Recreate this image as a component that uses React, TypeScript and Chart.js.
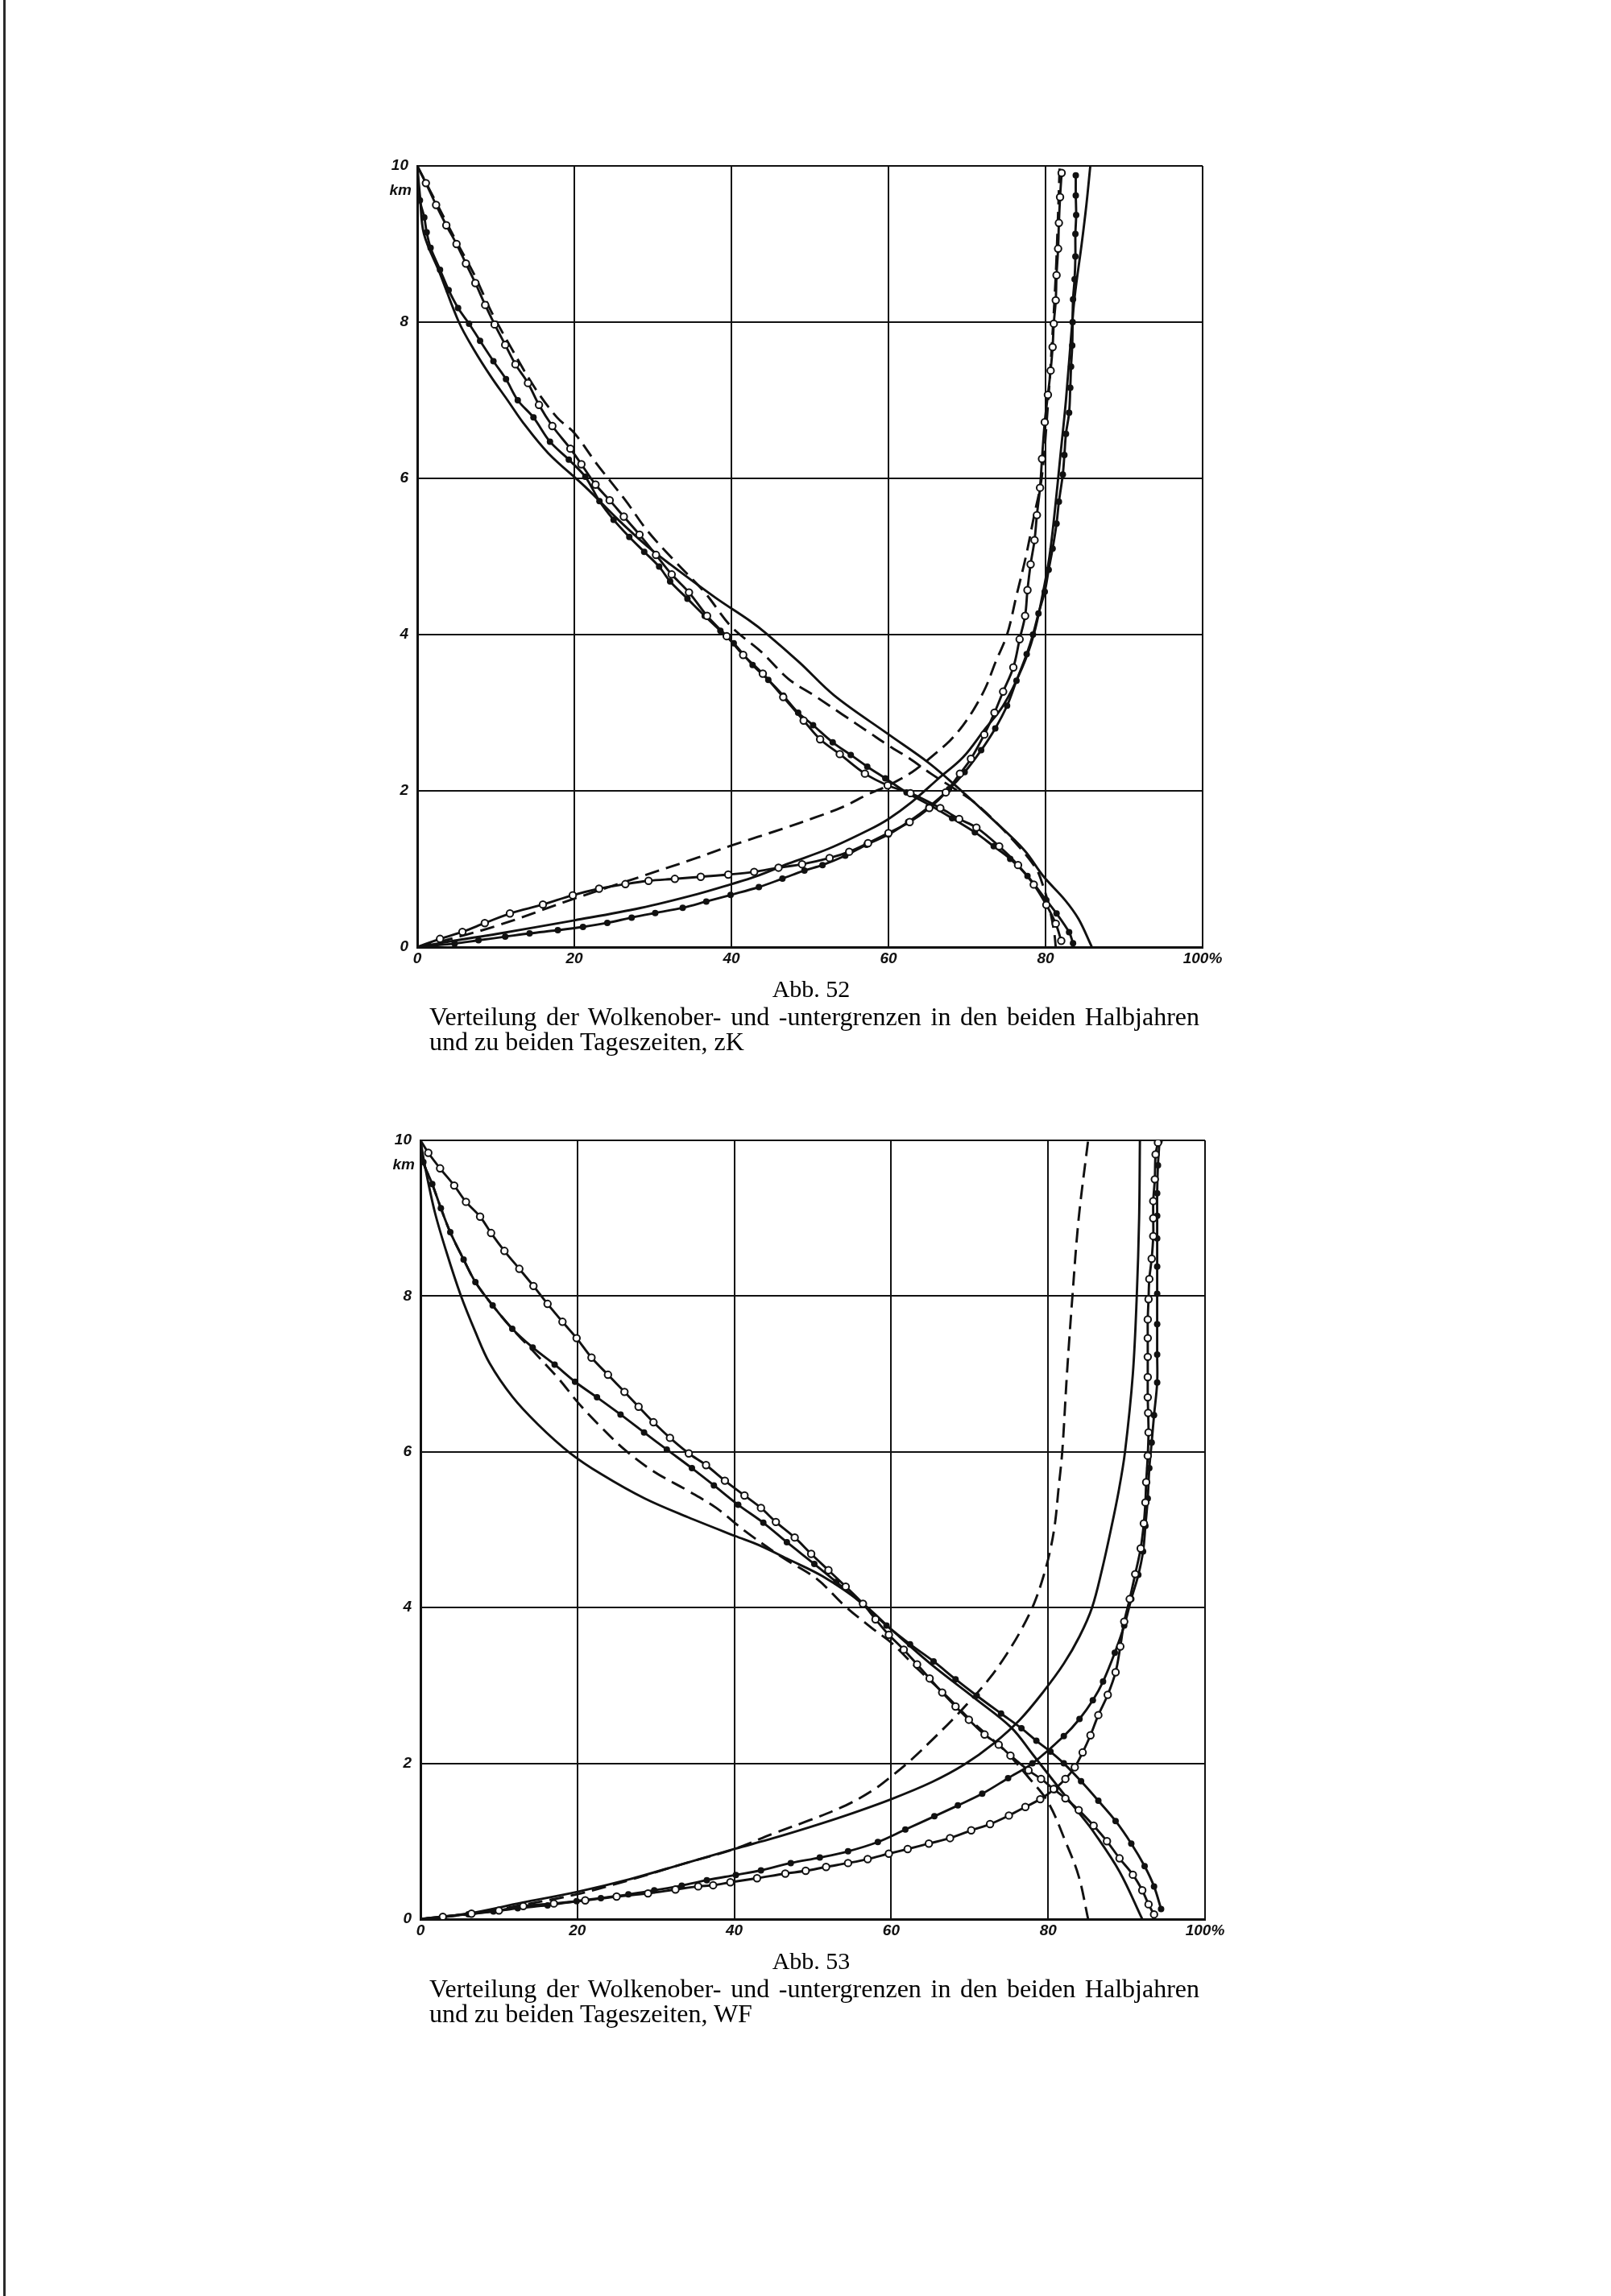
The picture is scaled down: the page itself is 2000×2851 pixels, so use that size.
import React, { useEffect, useRef } from "react";
import { Chart, registerables } from "chart.js";

Chart.register(...registerables);

type Pt = [number, number]; // [percent, km]

const xTickLabels = ["0", "20", "40", "60", "80", "100%"];
const xTickValues = [0, 20, 40, 60, 80, 100];
const yUnit = "km";

// ---------- Abb. 52 (zK) ----------
// falling curves (0 % at 10 km -> ~85 % at 0 km)
const a52FallVoll: Pt[] = [
  [0, 10], [0.36, 9.6], [0.85, 9.13], [2.9, 8.62], [5.3, 8.0], [7.2, 7.65], [9.4, 7.3],
  [11.5, 7.0], [13.5, 6.71], [16.7, 6.32], [21.4, 5.89], [25.7, 5.46], [29.3, 5.13],
  [32.2, 4.9], [38.0, 4.47], [42.3, 4.18], [44.5, 4.01], [48.7, 3.64], [53.1, 3.22],
  [59.9, 2.73], [65.1, 2.36], [68.5, 2.07], [73.2, 1.64], [77.3, 1.24], [79.7, 0.91],
  [82.5, 0.6], [84.2, 0.36], [85.9, 0],
];
const a52FallStrich: Pt[] = [
  [0, 10], [3.25, 9.37], [5.0, 9.03], [7.35, 8.59], [9.4, 8.14], [11.8, 7.7], [14.9, 7.17],
  [17.8, 6.78], [20.0, 6.58], [22.9, 6.18], [26.5, 5.72], [29.3, 5.33], [32.9, 4.93],
  [36.6, 4.54], [40.0, 4.1], [43.8, 3.78], [47.3, 3.43], [50.7, 3.21], [54.1, 2.98],
  [57.5, 2.75], [60.0, 2.58], [62.6, 2.42], [65.4, 2.22], [68.5, 2.02], [71.2, 1.83],
  [75.3, 1.43], [78.7, 1.02], [79.7, 0.78], [80.5, 0.5], [81.1, 0.19], [81.3, 0],
];
const a52FallOffen: Pt[] = [
  [0, 10], [1.1, 9.78], [2.4, 9.5], [3.7, 9.24], [5.0, 9.0], [6.2, 8.75], [7.4, 8.5],
  [8.65, 8.22], [9.85, 7.97], [11.2, 7.71], [12.5, 7.46], [14.1, 7.22], [15.5, 6.94],
  [17.2, 6.67], [19.5, 6.38], [20.9, 6.18], [22.7, 5.92], [24.5, 5.72], [26.3, 5.51],
  [28.3, 5.28], [30.4, 5.02], [32.4, 4.77], [34.6, 4.54], [36.9, 4.24], [39.4, 3.98],
  [41.5, 3.74], [44.0, 3.5], [46.6, 3.2], [49.2, 2.9], [51.3, 2.66], [53.8, 2.47],
  [57.0, 2.22], [59.9, 2.07], [62.8, 1.97], [66.6, 1.78], [69.0, 1.64], [71.2, 1.53],
  [74.1, 1.29], [76.5, 1.05], [78.5, 0.8], [80.1, 0.54], [81.3, 0.3], [82.0, 0.08],
];
const a52FallPunkt: Pt[] = [
  [0, 10], [0.34, 9.56], [0.9, 9.34], [1.2, 9.15], [1.7, 8.95], [2.9, 8.67], [4.0, 8.41],
  [5.2, 8.18], [6.6, 7.98], [8.0, 7.76], [9.7, 7.5], [11.3, 7.27], [12.8, 7.0], [14.8, 6.78],
  [16.9, 6.47], [19.3, 6.24], [21.4, 6.02], [23.2, 5.71], [25.0, 5.47], [27.0, 5.25],
  [28.9, 5.06], [30.8, 4.87], [32.2, 4.68], [34.4, 4.46], [36.6, 4.24], [38.6, 4.05],
  [40.3, 3.89], [42.7, 3.61], [44.7, 3.42], [46.6, 3.22], [48.5, 3.0], [50.4, 2.84],
  [52.9, 2.62], [55.2, 2.46], [57.3, 2.31], [59.6, 2.16], [62.3, 1.98], [65.4, 1.81],
  [68.1, 1.65], [71.0, 1.47], [73.4, 1.29], [75.5, 1.13], [77.7, 0.91], [80.1, 0.6],
  [81.4, 0.43], [83.0, 0.19], [83.5, 0.05],
];
// rising curves (0 % at 0 km -> ~82-86 % at 10 km)
const a52StiegVoll: Pt[] = [
  [0, 0], [4.6, 0.08], [10.1, 0.168], [20, 0.342], [28.4, 0.5], [35.7, 0.68], [40, 0.806],
  [43, 0.9], [47.3, 1.07], [52.4, 1.26], [57.5, 1.5], [60, 1.64], [63, 1.86], [66.4, 2.16],
  [69.5, 2.43], [72.2, 2.78], [74.6, 3.09], [77.0, 3.57], [78.5, 4.0], [79.6, 4.5],
  [80.5, 5.0], [81.2, 5.6], [81.9, 6.3], [82.6, 7.0], [83.4, 8.0], [83.8, 8.4],
  [84.6, 9.0], [85.2, 9.5], [85.7, 10],
];
const a52StiegStrich: Pt[] = [
  [0, 0], [2.7, 0.063], [10.1, 0.272], [20, 0.62], [28.4, 0.9], [35.7, 1.145], [40, 1.3],
  [46.7, 1.52], [50.7, 1.66], [54.1, 1.79], [57.5, 1.96], [60, 2.07], [63, 2.24],
  [65.4, 2.43], [67.8, 2.64], [69.5, 2.84], [70.9, 3.05], [72.4, 3.33], [73.6, 3.64],
  [75.1, 4.0], [76.3, 4.5], [77.5, 5.0], [78.5, 5.5], [79.5, 6.0], [80.2, 6.8],
  [80.8, 7.7], [81.3, 8.6], [81.6, 9.4], [81.8, 10],
];
const a52StiegOffen: Pt[] = [
  [0, 0], [2.9, 0.105], [5.75, 0.195], [8.6, 0.307], [11.8, 0.43], [16.0, 0.545],
  [19.8, 0.663], [23.15, 0.747], [26.5, 0.806], [29.45, 0.848], [32.8, 0.873], [36.1, 0.9],
  [39.6, 0.928], [42.9, 0.963], [46.0, 1.016], [49.0, 1.06], [52.5, 1.14], [55.0, 1.22],
  [57.4, 1.33], [60, 1.46], [62.7, 1.6], [65.2, 1.78], [67.3, 1.98], [69.1, 2.22],
  [70.5, 2.41], [72.2, 2.72], [73.5, 3.0], [74.6, 3.27], [75.9, 3.58], [76.7, 3.94],
  [77.4, 4.24], [77.7, 4.57], [78.1, 4.9], [78.6, 5.21], [78.9, 5.53], [79.3, 5.88],
  [79.55, 6.25], [79.9, 6.72], [80.3, 7.07], [80.65, 7.38], [80.9, 7.68], [81.05, 7.98],
  [81.3, 8.28], [81.4, 8.6], [81.6, 8.94], [81.7, 9.27], [81.85, 9.6], [82.05, 9.91],
];
const a52StiegPunkt: Pt[] = [
  [0, 0], [4.76, 0.045], [7.8, 0.087], [11.2, 0.133], [14.3, 0.175], [17.9, 0.216],
  [21.1, 0.258], [24.2, 0.31], [27.3, 0.377], [30.3, 0.436], [33.8, 0.503], [36.8, 0.583],
  [39.9, 0.667], [43.5, 0.768], [46.5, 0.876], [49.3, 0.98], [51.6, 1.05], [54.5, 1.17],
  [57.2, 1.31], [60, 1.44], [62.5, 1.6], [65.1, 1.79], [67.7, 2.02], [69.7, 2.24],
  [71.8, 2.52], [73.6, 2.8], [75.1, 3.09], [76.3, 3.41], [77.6, 3.75], [78.4, 4.0],
  [79.1, 4.27], [79.9, 4.55], [80.4, 4.83], [80.9, 5.1], [81.4, 5.42], [81.7, 5.7],
  [82.2, 6.05], [82.4, 6.3], [82.6, 6.57], [83.0, 6.84], [83.15, 7.16], [83.25, 7.43],
  [83.4, 7.7], [83.45, 8.0], [83.5, 8.29], [83.7, 8.55], [83.8, 8.84], [83.8, 9.13],
  [83.9, 9.37], [83.85, 9.62], [83.85, 9.88],
];

// ---------- Abb. 53 (WF) ----------
const a53FallVoll: Pt[] = [
  [0, 10], [0.55, 9.68], [1.8, 9.09], [3.3, 8.57], [5.1, 8.02], [7.0, 7.54], [8.8, 7.14],
  [11.7, 6.71], [15.0, 6.35], [19.0, 5.99], [23.1, 5.71], [28.6, 5.4], [34.1, 5.16],
  [40.1, 4.92], [43.2, 4.8], [46.9, 4.62], [51.3, 4.4], [56.4, 4.05], [60, 3.72],
  [65, 3.28], [70.6, 2.84], [75.3, 2.46], [78.0, 2.12], [81.5, 1.67], [84.2, 1.33],
  [85.8, 1.12], [89.1, 0.61], [92.0, 0],
];
const a53FallStrich: Pt[] = [
  [0, 10], [0.37, 9.72], [1.5, 9.44], [2.6, 9.13], [3.8, 8.82], [5.5, 8.47], [7.0, 8.18],
  [9.2, 7.88], [11.7, 7.58], [14.3, 7.3], [17.6, 6.94], [20.1, 6.63], [22.7, 6.35],
  [26.0, 6.03], [29.7, 5.75], [34.1, 5.5], [37.7, 5.28], [41.4, 4.98], [46.2, 4.64],
  [50.5, 4.37], [54.1, 4.02], [57.5, 3.74], [60, 3.55], [63.5, 3.2], [67, 2.87],
  [70.5, 2.52], [74.6, 2.15], [77.5, 1.82], [80, 1.5], [82.2, 1.0], [83.9, 0.55], [85.1, 0],
];
const a53FallOffen: Pt[] = [
  [0, 10], [1.0, 9.84], [2.5, 9.64], [4.3, 9.42], [5.8, 9.21], [7.6, 9.02], [9.0, 8.81],
  [10.7, 8.58], [12.6, 8.35], [14.4, 8.13], [16.2, 7.9], [18.1, 7.67], [19.9, 7.46],
  [21.8, 7.21], [23.9, 6.99], [26.0, 6.77], [27.8, 6.58], [29.7, 6.38], [31.8, 6.18],
  [34.2, 5.98], [36.4, 5.83], [38.8, 5.63], [41.3, 5.44], [43.4, 5.28], [45.3, 5.1],
  [47.7, 4.9], [49.8, 4.69], [52.0, 4.48], [54.2, 4.27], [56.4, 4.05], [58.0, 3.85],
  [59.7, 3.65], [61.6, 3.46], [63.3, 3.27], [64.9, 3.09], [66.5, 2.91], [68.2, 2.73],
  [69.9, 2.56], [71.9, 2.37], [73.7, 2.24], [75.2, 2.1], [77.5, 1.91], [79.1, 1.8],
  [80.7, 1.67], [82.2, 1.55], [83.9, 1.4], [85.8, 1.2], [87.5, 1.0], [89.1, 0.78],
  [90.8, 0.57], [92.0, 0.37], [92.8, 0.19], [93.5, 0.06],
];
const a53FallPunkt: Pt[] = [
  [0, 10], [0.37, 9.72], [1.5, 9.44], [2.6, 9.13], [3.8, 8.82], [5.5, 8.47], [7.0, 8.18],
  [9.2, 7.88], [11.7, 7.58], [14.3, 7.34], [17.1, 7.12], [19.7, 6.9], [22.5, 6.7],
  [25.5, 6.48], [28.5, 6.25], [31.4, 6.03], [34.6, 5.79], [37.4, 5.57], [40.5, 5.32],
  [43.7, 5.09], [46.7, 4.84], [50.2, 4.56], [53.0, 4.33], [56.4, 4.04], [59.4, 3.77],
  [62.4, 3.53], [65.4, 3.31], [68.2, 3.08], [70.9, 2.87], [74.0, 2.64], [76.6, 2.45],
  [78.5, 2.29], [80.3, 2.15], [82.0, 2.0], [84.2, 1.77], [86.4, 1.52], [88.6, 1.26],
  [90.6, 0.97], [92.3, 0.68], [93.5, 0.42], [94.4, 0.13],
];
const a53StiegVoll: Pt[] = [
  [0, 0], [6, 0.07], [12.9, 0.21], [20, 0.35], [26.6, 0.51], [33.5, 0.71], [40, 0.9],
  [45, 1.04], [49.6, 1.18], [54.2, 1.33], [60, 1.54], [65.2, 1.76], [69.4, 1.99],
  [73.0, 2.25], [76.4, 2.56], [79.4, 2.92], [82.0, 3.28], [84.0, 3.63], [85.6, 4.0],
  [86.9, 4.5], [88.0, 5.0], [89.0, 5.5], [89.8, 6.0], [90.8, 7.0], [91.3, 8.0],
  [91.6, 9.0], [91.7, 10],
];
const a53StiegStrich: Pt[] = [
  [0, 0], [6, 0.06], [12.9, 0.18], [20, 0.32], [26.6, 0.5], [33.5, 0.71], [40, 0.9],
  [45, 1.1], [49.6, 1.27], [54.2, 1.46], [57.6, 1.65], [60.1, 1.84], [62.6, 2.05],
  [65.2, 2.3], [67.8, 2.56], [70.3, 2.83], [72.6, 3.1], [74.7, 3.4], [76.6, 3.72],
  [78.2, 4.05], [79.4, 4.4], [80.3, 4.75], [80.9, 5.1], [81.3, 5.5], [81.8, 6.0],
  [82.4, 7.0], [83.1, 8.0], [83.9, 9.0], [85.1, 10],
];
const a53StiegOffen: Pt[] = [
  [0, 0], [2.85, 0.03], [6.5, 0.07], [10, 0.11], [13.1, 0.167], [17, 0.2], [21, 0.24],
  [25, 0.29], [29, 0.33], [32.5, 0.38], [35.4, 0.42], [37.3, 0.435], [39.5, 0.473],
  [42.9, 0.525], [46.5, 0.584], [49.1, 0.62], [51.7, 0.67], [54.5, 0.72], [57.0, 0.77],
  [59.7, 0.84], [62.1, 0.9], [64.8, 0.97], [67.5, 1.04], [70.2, 1.14], [72.6, 1.22],
  [75.0, 1.33], [77.1, 1.44], [79.0, 1.54], [80.8, 1.67], [82.2, 1.8], [83.4, 1.95],
  [84.4, 2.14], [85.4, 2.36], [86.4, 2.62], [87.6, 2.88], [88.6, 3.17], [89.2, 3.5],
  [89.7, 3.82], [90.4, 4.11], [91.1, 4.43], [91.8, 4.76], [92.2, 5.08], [92.4, 5.35],
  [92.5, 5.61], [92.7, 5.95], [92.8, 6.25], [92.75, 6.5], [92.7, 6.7], [92.7, 6.96],
  [92.7, 7.22], [92.7, 7.46], [92.7, 7.7], [92.8, 7.96], [92.9, 8.22], [93.2, 8.48],
  [93.4, 8.77], [93.4, 9.0], [93.4, 9.22], [93.6, 9.5], [93.7, 9.82], [94.0, 9.97],
];
const a53StiegPunkt: Pt[] = [
  [0, 0], [2.85, 0.035], [6.1, 0.063], [9.3, 0.097], [12.4, 0.14], [16.2, 0.177],
  [19.9, 0.23], [23.0, 0.27], [26.5, 0.317], [29.8, 0.37], [33.3, 0.43], [36.5, 0.5],
  [40.2, 0.567], [43.4, 0.626], [47.2, 0.72], [50.9, 0.79], [54.5, 0.87], [58.3, 0.99],
  [61.8, 1.15], [65.5, 1.32], [68.5, 1.46], [71.6, 1.61], [74.9, 1.81], [78.0, 2.0],
  [82.0, 2.35], [84.0, 2.57], [85.7, 2.81], [87.0, 3.05], [88.5, 3.42], [89.7, 3.77],
  [90.6, 4.11], [91.5, 4.42], [92.1, 4.72], [92.4, 5.05], [92.7, 5.4], [92.9, 5.79],
  [93.2, 6.12], [93.5, 6.47], [93.9, 6.89], [93.9, 7.25], [93.9, 7.64], [93.9, 8.03],
  [93.9, 8.38], [93.9, 8.74], [93.9, 9.03], [93.9, 9.32], [94.0, 9.68], [94.2, 9.99],
];

type Style = "voll" | "strich" | "offen" | "punkt";
type Series = { name: string; pts: Pt[]; style: Style };

// marker series first so they are painted on top
const abb52Series: Series[] = [
  { name: "fallend offen", pts: a52FallOffen, style: "offen" },
  { name: "steigend offen", pts: a52StiegOffen, style: "offen" },
  { name: "fallend Punkte", pts: a52FallPunkt, style: "punkt" },
  { name: "steigend Punkte", pts: a52StiegPunkt, style: "punkt" },
  { name: "fallend voll", pts: a52FallVoll, style: "voll" },
  { name: "steigend voll", pts: a52StiegVoll, style: "voll" },
  { name: "fallend gestrichelt", pts: a52FallStrich, style: "strich" },
  { name: "steigend gestrichelt", pts: a52StiegStrich, style: "strich" },
];
const abb53Series: Series[] = [
  { name: "fallend offen", pts: a53FallOffen, style: "offen" },
  { name: "steigend offen", pts: a53StiegOffen, style: "offen" },
  { name: "fallend Punkte", pts: a53FallPunkt, style: "punkt" },
  { name: "steigend Punkte", pts: a53StiegPunkt, style: "punkt" },
  { name: "fallend voll", pts: a53FallVoll, style: "voll" },
  { name: "steigend voll", pts: a53StiegVoll, style: "voll" },
  { name: "fallend gestrichelt", pts: a53FallStrich, style: "strich" },
  { name: "steigend gestrichelt", pts: a53StiegStrich, style: "strich" },
];

const INK = "#111111";
const tickFont = { family: "'Liberation Sans', Arial, sans-serif", size: 19, style: "italic" as const, weight: "bold" as const };

function buildDataset(s: Series) {
  const base: any = {
    label: s.name,
    data: s.pts.map(([x, y]) => ({ x, y })),
    borderColor: INK,
    borderWidth: 2.9,
    tension: 0.35,
    fill: false,
    pointHoverRadius: 0,
    pointHitRadius: 0,
  };
  const hideEnds = (r: number) => (ctx: any) => {
    const p = s.pts[ctx.dataIndex];
    return p && p[0] === 0 ? 0 : r;
  };
  if (s.style === "voll") base.pointRadius = 0;
  if (s.style === "strich") {
    base.pointRadius = 0;
    base.borderDash = [18, 9];
  }
  if (s.style === "offen") {
    base.pointRadius = hideEnds(4.2);
    base.pointBackgroundColor = "#ffffff";
    base.pointBorderColor = INK;
    base.pointBorderWidth = 2;
  }
  if (s.style === "punkt") {
    base.pointRadius = hideEnds(4);
    base.pointBackgroundColor = INK;
    base.pointBorderColor = INK;
    base.pointBorderWidth = 0;
  }
  return base;
}

const unitPlugin = {
  id: "unitLabel",
  afterDraw(chart: any) {
    const { ctx, chartArea } = chart;
    ctx.save();
    ctx.font = "italic bold 19px 'Liberation Sans', Arial, sans-serif";
    ctx.fillStyle = INK;
    ctx.textAlign = "right";
    ctx.textBaseline = "middle";
    ctx.fillText(yUnit, chartArea.left - 7, chartArea.top + 31);
    ctx.restore();
  },
};

type Pad = { left: number; right: number; top: number; bottom: number };

function PlotCanvas(props: { series: Series[]; left: number; top: number; width: number; height: number; pad: Pad }) {
  const ref = useRef<HTMLCanvasElement | null>(null);
  useEffect(() => {
    if (!ref.current) return;
    const chart = new Chart(ref.current, {
      type: "line",
      data: { datasets: props.series.map(buildDataset) },
      options: {
        animation: false,
        responsive: false,
        maintainAspectRatio: false,
        devicePixelRatio: 1,
        layout: { padding: props.pad },
        plugins: {
          legend: { display: false },
          tooltip: { enabled: false },
          title: { display: false },
        },
        events: [],
        scales: {
          x: {
            type: "linear",
            min: 0,
            max: 100,
            afterFit: (s: any) => {
              s.height = 30;
            },
            ticks: {
              stepSize: 20,
              autoSkip: false,
              maxRotation: 0,
              padding: 3,
              color: INK,
              font: tickFont,
              callback: (v: any) => {
                const i = xTickValues.indexOf(Number(v));
                return i >= 0 ? xTickLabels[i] : "";
              },
            },
            grid: { color: INK, lineWidth: 2, drawTicks: false },
            border: { color: INK, width: 3 },
          },
          y: {
            type: "linear",
            min: 0,
            max: 10,
            afterFit: (s: any) => {
              s.width = 40;
            },
            ticks: {
              stepSize: 2,
              padding: 11,
              color: INK,
              font: tickFont,
            },
            grid: { color: INK, lineWidth: 2, drawTicks: false },
            border: { color: INK, width: 3 },
          },
        },
      } as any,
      plugins: [unitPlugin],
    });
    return () => chart.destroy();
  }, []);
  return (
    <canvas
      ref={ref}
      width={props.width}
      height={props.height}
      style={{ position: "absolute", left: props.left, top: props.top, width: props.width, height: props.height }}
    />
  );
}

const serif = "'Liberation Serif', 'Times New Roman', serif";

function Caption(props: { fig: string; line1: string; line2: string; baseline: number }) {
  const b = props.baseline;
  return (
    <>
      <div
        style={{
          position: "absolute",
          left: 518,
          width: 978,
          top: b - 25,
          fontFamily: serif,
          fontSize: 30,
          lineHeight: "30px",
          textAlign: "center",
          color: "#000",
          whiteSpace: "nowrap",
        }}
      >
        {props.fig}
      </div>
      <div
        style={{
          position: "absolute",
          left: 533,
          width: 956,
          top: b + 35 - 27,
          fontFamily: serif,
          fontSize: 32,
          lineHeight: "32px",
          textAlign: "justify",
          textAlignLast: "justify" as any,
          color: "#000",
          whiteSpace: "nowrap",
        }}
      >
        {props.line1}
      </div>
      <div
        style={{
          position: "absolute",
          left: 533,
          top: b + 66 - 27,
          fontFamily: serif,
          fontSize: 32,
          lineHeight: "32px",
          color: "#000",
          whiteSpace: "nowrap",
        }}
      >
        {props.line2}
      </div>
    </>
  );
}

export default function App() {
  return (
    <div
      style={{
        position: "absolute",
        left: 0,
        top: 0,
        width: 2000,
        height: 2851,
        background: "#ffffff",
        overflow: "hidden",
      }}
    >
      <div style={{ position: "absolute", left: 4, top: 0, width: 3, height: 2851, background: "#2a2a2a" }} />
      <PlotCanvas
        series={abb52Series}
        left={430}
        top={170}
        width={1120}
        height={1050}
        pad={{ left: 48, right: 57, top: 36, bottom: 14 }}
      />
      <Caption
        fig="Abb. 52"
        line1="Verteilung der Wolkenober- und -untergrenzen in den beiden Halbjahren"
        line2="und zu beiden Tageszeiten, zK"
        baseline={1238}
      />
      <PlotCanvas
        series={abb53Series}
        left={430}
        top={1380}
        width={1120}
        height={1050}
        pad={{ left: 52, right: 54, top: 36, bottom: 17 }}
      />
      <Caption
        fig="Abb. 53"
        line1="Verteilung der Wolkenober- und -untergrenzen in den beiden Halbjahren"
        line2="und zu beiden Tageszeiten, WF"
        baseline={2445}
      />
    </div>
  );
}
